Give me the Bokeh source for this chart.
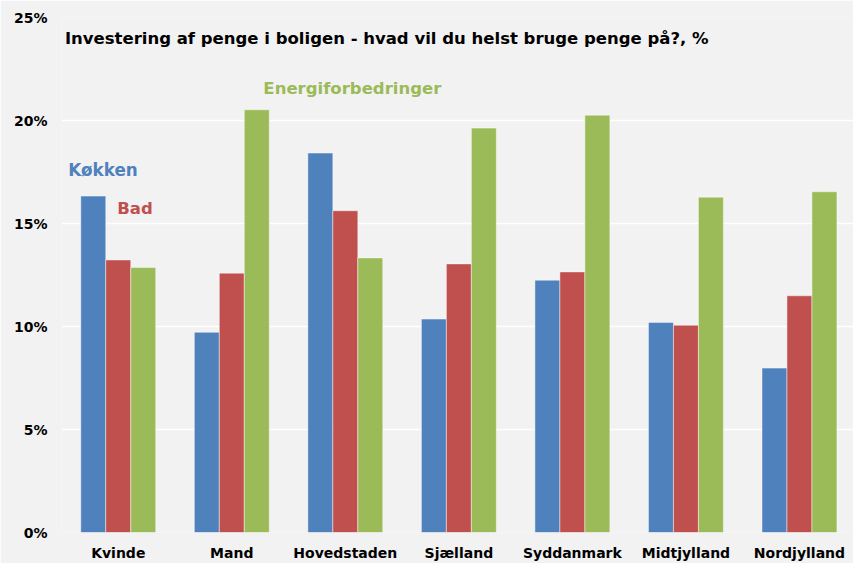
from bokeh.plotting import figure
from bokeh.models import ColumnDataSource, FixedTicker, Label
from bokeh.transform import dodge
from bokeh.embed import file_html
from bokeh.resources import INLINE

categories = ["Kvinde", "Mand", "Hovedstaden", "Sjælland", "Syddanmark", "Midtjylland", "Nordjylland"]
koekken = [16.33, 9.72, 18.42, 10.36, 12.25, 10.20, 7.98]
bad = [13.23, 12.59, 15.62, 13.04, 12.65, 10.06, 11.49]
energi = [12.86, 20.52, 13.33, 19.63, 20.26, 16.28, 16.54]
y_ticks = [0, 5, 10, 15, 20, 25]

BLUE, RED, GREEN = "#4f81bd", "#c0504d", "#9bbb59"
BG = "#f2f2f2"
FONT = "DejaVu Sans"

idx = list(range(len(categories)))
src = ColumnDataSource(dict(x=idx, k=koekken, b=bad, e=energi))

p = figure(width=853, height=563, output_backend="svg", toolbar_location=None,
           x_range=(-0.5, 6.476), y_range=(0, 25),
           min_border_left=61, min_border_right=0, min_border_top=17, min_border_bottom=29)
p.background_fill_color = BG
p.border_fill_color = BG
p.outline_line_color = None

w = 0.22
for col, off, color in [("k", -w, BLUE), ("b", 0, RED), ("e", w, GREEN)]:
    p.vbar(x=dodge("x", off), top=col, width=w, bottom=0, source=src,
           fill_color=color, line_color="white", line_alpha=0.45, line_width=1)

p.xaxis.ticker = FixedTicker(ticks=idx)
p.xaxis.major_label_overrides = {i: c for i, c in zip(idx, categories)}
p.yaxis.ticker = FixedTicker(ticks=y_ticks)
p.yaxis.major_label_overrides = {t: f"{t}%" for t in y_ticks}
for ax in (p.xaxis, p.yaxis):
    ax.axis_line_color = None
    ax.major_tick_line_color = None
    ax.minor_tick_line_color = None
    ax.major_tick_out = 0
    ax.major_tick_in = 0
    ax.major_label_text_font = FONT
    ax.major_label_text_font_style = "bold"
    ax.major_label_text_font_size = "14px"
    ax.major_label_text_color = "black"
p.xaxis.major_label_standoff = 12
p.yaxis.major_label_standoff = 14
p.xgrid.grid_line_color = None
p.ygrid.grid_line_color = "white"
p.ygrid.grid_line_width = 1.5

p.add_layout(Label(x=-0.47, y=23.98, text="Investering af penge i boligen - hvad vil du helst bruge penge på?, %",
                   text_font=FONT, text_font_style="bold", text_font_size="16.5px",
                   text_color="black", text_baseline="middle"))
p.add_layout(Label(x=-0.44, y=17.6, text="Køkken", text_font=FONT, text_font_style="bold",
                   text_font_size="16.8px", text_color=BLUE, text_baseline="middle"))
p.add_layout(Label(x=-0.009, y=15.72, text="Bad", text_font=FONT, text_font_style="bold",
                   text_font_size="16.5px", text_color=RED, text_baseline="middle"))
p.add_layout(Label(x=1.278, y=21.57, text="Energiforbedringer", text_font=FONT, text_font_style="bold",
                   text_font_size="16.5px", text_color=GREEN, text_baseline="middle"))

open("out.html", "w").write(file_html(p, INLINE))
